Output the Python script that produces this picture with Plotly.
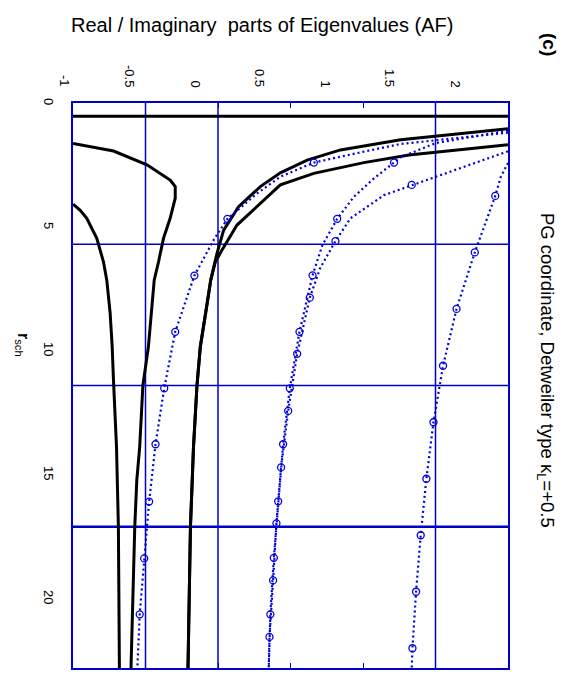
import plotly.graph_objects as go

# ---------------- data (x = eigenvalue part, r = r_sch) ----------------
xtick_vals = [-1, -0.5, 0, 0.5, 1, 1.5, 2]
xtick_text = ["-1", "-0.5", "0", "0.5", "1", "1.5", "2"]
rtick_vals = [0, 5, 10, 15, 20]
rtick_text = ["0", "5", "10", "15", "20"]
grid_x = [-0.5, 0, 1.5]
grid_r = [5, 10, 15]

asym_x = [-1.0, 2.0]
asym_r = [0.47, 0.47]

blackA_x = [-1.0, -0.95, -0.905, -0.836, -0.79, -0.767, -0.744, -0.73, -0.721, -0.70, -0.687, -0.68]
blackA_r = [3.58, 3.8, 4.08, 4.79, 5.62, 6.27, 7.43, 8.6, 9.8, 12.17, 15.0, 20.0]

blackB_x = [-1.0, -0.72, -0.49, -0.33, -0.295, -0.295, -0.33, -0.376, -0.41, -0.44, -0.48,
            -0.518, -0.54, -0.56, -0.574, -0.6]
blackB_r = [1.43, 1.70, 2.19, 2.73, 2.96, 3.37, 4.08, 4.79, 5.62, 6.27, 8.63,
            10.0, 12.17, 13.35, 15.0, 20.0]

blackC_x = [2.0, 1.5, 1.26, 0.845, 0.615, 0.43, 0.292, 0.142, 0.039, -0.007, -0.05,
            -0.085, -0.122, -0.145, -0.169, -0.19, -0.207]
blackC_r = [0.91, 1.16, 1.30, 1.66, 2.02, 2.47, 2.96, 3.67, 4.5, 5.32, 6.27,
            7.44, 8.63, 10.0, 12.17, 15.0, 20.0]

blackD_x = [2.0, 1.5, 1.317, 1.006, 0.661, 0.43, 0.292, 0.131, 0.028, -0.02, -0.05,
            -0.085, -0.122, -0.145, -0.169, -0.19, -0.207]
blackD_r = [1.48, 1.75, 1.84, 2.11, 2.49, 2.9, 3.55, 4.32, 5.2, 5.65, 6.27,
            7.44, 8.63, 10.0, 12.17, 15.0, 20.0]

blue1_x = [2.0, 1.26, 1.006, 0.661, 0.43, 0.27, 0.065, -0.03, -0.163, -0.295, -0.371,
           -0.431, -0.475, -0.509, -0.54, -0.556]
blue1_r = [1.05, 1.45, 1.72, 2.11, 2.61, 3.2, 4.1, 4.85, 6.11, 8.1, 10.1,
           12.08, 14.11, 16.12, 18.1, 20.0]
blue1_mk = [3, 6, 8, 9, 10, 11, 12, 13, 14]

blue2_x = [2.0, 1.5, 1.26, 1.214, 1.075, 0.937, 0.822, 0.72, 0.652, 0.562, 0.495,
           0.449, 0.415, 0.385, 0.361, 0.35]
blue2_r = [0.98, 1.42, 1.92, 2.11, 2.67, 3.32, 4.1, 5.03, 6.1, 8.1, 10.1,
           12.08, 14.1, 16.1, 18.1, 20.0]
blue2_mk = [3, 6, 8, 9, 10, 11, 12, 13, 14]

blue3_x = [2.0, 1.49, 1.336, 1.145, 0.914, 0.81, 0.705, 0.633, 0.546, 0.484, 0.435,
           0.403, 0.38, 0.355, 0.35]
blue3_r = [1.71, 2.62, 2.9, 3.26, 4.08, 4.89, 5.84, 6.89, 8.88, 10.9, 12.9,
           14.88, 16.9, 18.9, 20.0]
blue3_mk = [2, 5, 7, 8, 9, 10, 11, 12, 13]

blue4_x = [2.0, 1.95, 1.912, 1.771, 1.645, 1.552, 1.486, 1.437, 1.398, 1.366, 1.341, 1.336]
blue4_r = [2.12, 2.62, 3.29, 5.29, 7.29, 9.3, 11.3, 13.3, 15.3, 17.3, 19.3, 20.0]
blue4_mk = [2, 3, 4, 5, 6, 7, 8, 9, 10]

# ---------------- styling ----------------
FONT = "Liberation Sans, Arial, sans-serif"
BLUE = "#0000dd"
GRID = "#0000c8"
W, H = 578, 682
ML, MR, MT, MB = 73, 70, 103, 14

fig = go.Figure()

for xs, rs in [(asym_x, asym_r), (blackA_x, blackA_r), (blackB_x, blackB_r),
               (blackC_x, blackC_r), (blackD_x, blackD_r)]:
    fig.add_trace(go.Scatter(x=xs, y=rs, mode="lines",
                             line=dict(color="black", width=3),
                             hoverinfo="skip", showlegend=False))

for xs, rs, mk in [(blue1_x, blue1_r, blue1_mk), (blue2_x, blue2_r, blue2_mk),
                   (blue3_x, blue3_r, blue3_mk), (blue4_x, blue4_r, blue4_mk)]:
    fig.add_trace(go.Scatter(x=xs, y=rs, mode="lines",
                             line=dict(color=BLUE, width=2.2, dash="2px,3px"),
                             hoverinfo="skip", showlegend=False))
    fig.add_trace(go.Scatter(x=[xs[i] for i in mk], y=[rs[i] for i in mk],
                             mode="markers",
                             marker=dict(symbol="circle-open", size=7,
                                         color=BLUE, line=dict(width=1.3, color=BLUE)),
                             hoverinfo="skip", showlegend=False))

for gx in grid_x:
    fig.add_shape(type="line", xref="x", yref="paper", x0=gx, x1=gx, y0=0, y1=1,
                  line=dict(color=GRID, width=1.5), layer="below")
for gr in grid_r:
    fig.add_shape(type="line", xref="paper", yref="y", x0=0, x1=1, y0=gr, y1=gr,
                  line=dict(color=GRID, width=2.5 if gr == 15 else 1.5), layer="below")

# tick labels (rotated, as in the rotated original page)
pw = W - ML - MR
ph = H - MT - MB
for v, t in zip(xtick_vals, xtick_text):
    px = 65 + (v - xtick_vals[0]) / (xtick_vals[-1] - xtick_vals[0]) * 390
    fig.add_annotation(xref="paper", yref="paper", x=(px - ML) / pw, y=1,
                       yanchor="bottom", xanchor="center", yshift=14,
                       text=t, textangle=90, showarrow=False,
                       font=dict(family=FONT, size=13, color="black"))
for v, t in zip(rtick_vals, rtick_text):
    py = 101 + v / 5 * 124
    fig.add_annotation(xref="paper", yref="paper", x=0, y=1 - (py - MT) / ph,
                       xanchor="center", yanchor="middle", xshift=-24,
                       text=t, textangle=90, showarrow=False,
                       font=dict(family=FONT, size=13, color="black"))

fig.add_annotation(xref="paper", yref="paper", x=0, y=1 - (345 - MT) / ph,
                   xanchor="center", yanchor="middle", xshift=-50,
                   text="<b>r</b><sub>sch</sub>", textangle=90, showarrow=False,
                   font=dict(family=FONT, size=16, color="black"))
fig.add_annotation(xref="paper", yref="paper", x=(262 - ML) / pw, y=1,
                   xanchor="center", yanchor="middle", yshift=MT - 25,
                   text="Real / Imaginary\u00a0\u00a0parts of Eigenvalues (AF)", showarrow=False,
                   font=dict(family=FONT, size=20, color="black"))
fig.add_annotation(xref="paper", yref="paper", x=(546 - ML) / pw, y=1 - (370 - MT) / ph,
                   xanchor="center", yanchor="middle",
                   text="PG coordinate, Detweiler type κ<sub>L</sub>=+0.5", textangle=90,
                   showarrow=False, font=dict(family=FONT, size=18.5, color="black"))
fig.add_annotation(xref="paper", yref="paper", x=(550 - ML) / pw, y=1,
                   xanchor="center", yanchor="middle", yshift=MT - 44,
                   text="<b>(c)</b>", textangle=90, showarrow=False,
                   font=dict(family=FONT, size=19, color="black"))

axis_common = dict(showgrid=False, zeroline=False, showline=True, linecolor=GRID,
                   linewidth=1.5, mirror="ticks", ticks="inside", ticklen=5,
                   tickcolor=GRID, tickwidth=1.2, showticklabels=False)
fig.update_xaxes(range=[-1, 2], tickvals=xtick_vals, **axis_common)
fig.update_yaxes(range=[20, 0], tickvals=rtick_vals, **axis_common)

fig.update_layout(width=W, height=H, margin=dict(l=ML, r=MR, t=MT, b=MB),
                  plot_bgcolor="white", paper_bgcolor="white",
                  font=dict(family=FONT), showlegend=False)

fig.write_html("out.html", config={"displayModeBar": False},
               post_script="document.body.style.margin='0';document.body.style.overflow='hidden';")
